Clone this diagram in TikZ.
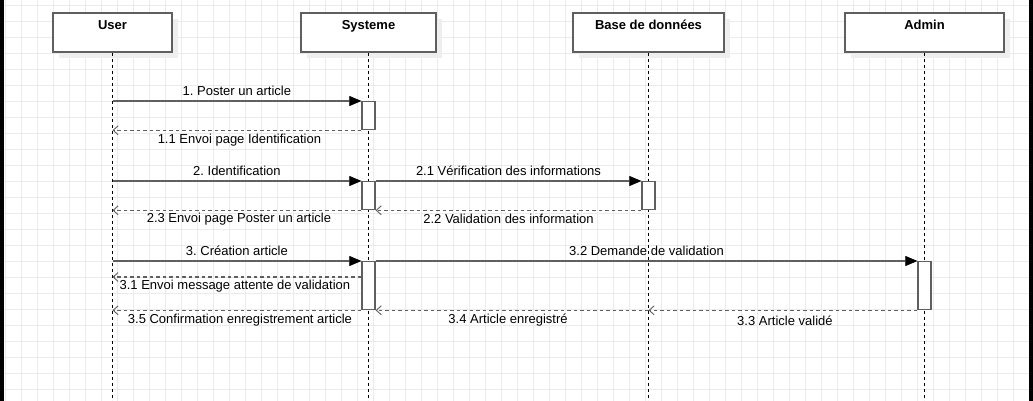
\documentclass[tikz,border=0pt]{standalone}
\usepackage{fontspec}
\setmainfont{Liberation Sans}
\usetikzlibrary{arrows.meta,shadows}
\definecolor{gridgray}{HTML}{EBEBEB}
\definecolor{linegray}{HTML}{5F5F5F}
\definecolor{shadegray}{HTML}{EEEEEE}
\frenchspacing

\begin{document}
\begin{tikzpicture}[x=1pt, y=-1pt,
		actor/.style={draw=linegray, line width=1.3pt, fill=white, rectangle,
			inner xsep=2pt, inner ysep=3pt, text height=14pt, text depth=19pt,
			minimum height=39pt, font=\fontsize{13}{15}\selectfont\bfseries,
			general shadow={fill=shadegray, shadow xshift=6pt, shadow yshift=-6pt}},
		activ/.style={draw=linegray, line width=1.3pt, fill=white, rectangle,
			inner sep=0pt, minimum width=13pt, anchor=north},
		lifeline/.style={black, line width=1pt, dash pattern=on 3pt off 3pt},
		call/.style={draw=linegray, line width=1.3pt, -{Triangle[length=12pt,width=10pt,color=black,fill=black,line width=0.5pt]}},
		reply/.style={draw=linegray, line width=1.3pt, dash pattern=on 3.5pt off 3pt,
			-{Straight Barb[length=5pt,width=9pt,line width=0.9pt]}},
		lblup/.style={midway, yshift=10pt, inner sep=0pt, font=\fontsize{13}{15}\selectfont},
		lbldown/.style={midway, yshift=-10pt, inner sep=0pt, font=\fontsize{13}{15}\selectfont}]
	%%%%% START %%%%%
	
	\useasboundingbox (0,0) rectangle (1033,401);
	\fill[white] (0,0) rectangle (1033,401);
	\foreach \gx in {5.5,21.5,...,1030} \draw[gridgray, line width=1pt] (\gx,0) -- (\gx,401);
	\foreach \gy in {5.5,21.5,...,401} \draw[gridgray, line width=1pt] (0,\gy) -- (1033,\gy);
	\fill[black] (0,0) rectangle (4,401);
	\fill[black] (1029,0) rectangle (1033,401);
	
	\node[actor, minimum width=119pt] (user) at (112.5,32.5) {User};
	\node[actor, minimum width=135pt] (sys) at (368.5,32.5) {Systeme};
	\node[actor, minimum width=151pt] (db) at (648.5,32.5) {Base de données};
	\node[actor, minimum width=159pt] (admin) at (924.5,32.5) {Admin};
	
	\coordinate (userEnd) at (user |- 0,401);
	\coordinate (sysEnd) at (sys |- 0,401);
	\coordinate (dbEnd) at (db |- 0,401);
	\coordinate (adminEnd) at (admin |- 0,401);
	\draw[lifeline] (user.south) -- (userEnd);
	\draw[lifeline] (sys.south) -- (sysEnd);
	\draw[lifeline] (db.south) -- (dbEnd);
	\draw[lifeline] (admin.south) -- (adminEnd);
	
	\node[activ, minimum height=28pt] (sysA) at (368.5,101) {};
	\node[activ, minimum height=28pt] (sysB) at (368.5,181) {};
	\node[activ, minimum height=48pt] (sysC) at (368.5,261) {};
	\node[activ, minimum height=28pt] (dbA) at (648.5,181) {};
	\node[activ, minimum height=48pt] (adminA) at (924.5,261) {};
	
	% 1
	\draw[call] (user |- sysA.north west) -- (sysA.north west) node[lblup] {1. Poster un article};
	\draw[reply] (sysA.south west) -- (user |- sysA.south west) node[lbldown, xshift=2.5pt] {1.1 Envoi page Identification};
	
	% 2
	\draw[call] (user |- sysB.north west) -- (sysB.north west) node[lblup] {2. Identification};
	\draw[call] (sysB.north east) -- (dbA.north west) node[lblup] {2.1 Vérification des informations};
	\draw[reply] (dbA.south west) -- (sysB.south east) node[lbldown, yshift=1pt] {2.2 Validation des information};
	\draw[reply] (sysB.south west) -- (user |- sysB.south west) node[lbldown, yshift=1pt, xshift=2pt] {2.3 Envoi page Poster un article};
	
	% 3
	\draw[call] (user |- sysC.north west) -- (sysC.north west) node[lblup] {3. Création article};
	\draw[call] (sysC.north east) -- (adminA.north west) node[lblup] {3.2 Demande de validation};
	\draw[reply] ([yshift=-16pt]sysC.north west) -- (user |- 0,277) node[lbldown, yshift=1pt, xshift=-2pt] {3.1 Envoi message attente de validation};
	\draw[reply] (adminA.south west) -- (db |- adminA.south west) node[lbldown, xshift=2pt] {3.3 Article validé};
	\draw[reply] (db |- adminA.south west) -- (sysC.south east) node[lbldown, xshift=-4pt] {3.4 Article enregistré};
	\draw[reply] (sysC.south west) -- (user |- sysC.south west) node[lbldown, xshift=3pt] {3.5 Confirmation enregistrement article};
	
	%%%%% END %%%%%
\end{tikzpicture}
\end{document}
